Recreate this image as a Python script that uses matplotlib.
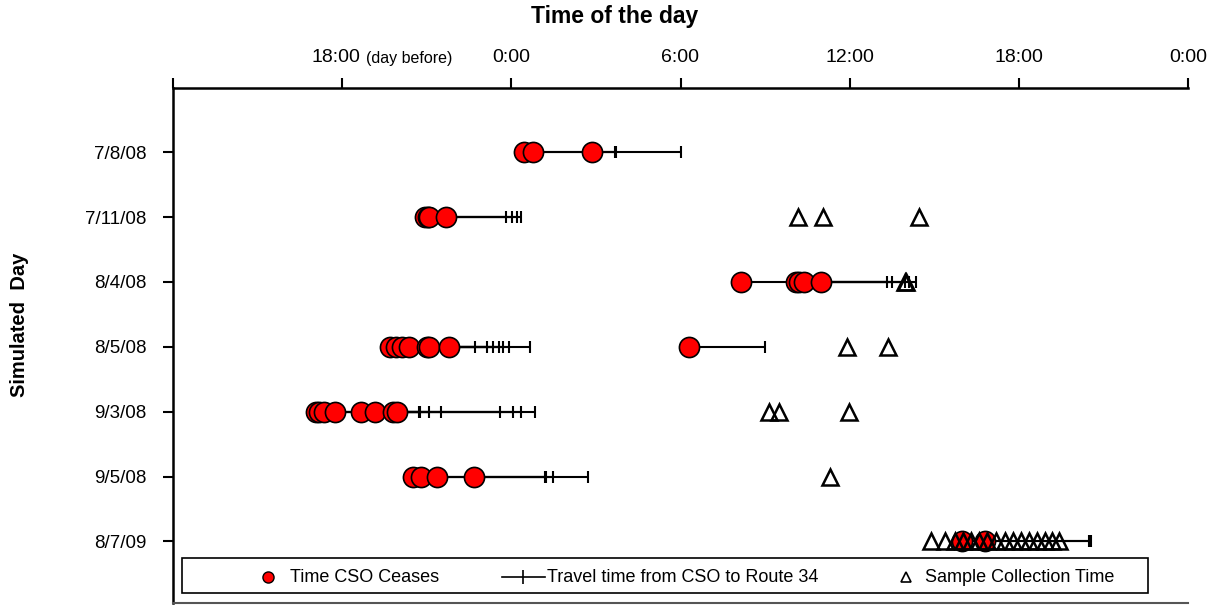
import matplotlib
matplotlib.use("Agg")
import matplotlib.pyplot as plt
from matplotlib.lines import Line2D
from matplotlib.patches import Rectangle
from matplotlib.transforms import ScaledTranslation

plt.rcParams['font.family'] = ['Liberation Sans', 'DejaVu Sans']

# Simulated days (top to bottom)
days = ["7/8/08", "7/11/08", "8/4/08", "8/5/08", "9/3/08", "9/5/08", "8/7/09"]

# Hours relative to midnight of each day (negative = day before)
cso_ceases = [
    [0.46, 0.78, 2.87],
    [-3.05, -2.95, -2.91, -2.32],
    [8.15, 10.10, 10.21, 10.39, 10.98],
    [-4.29, -4.08, -3.87, -3.62, -2.98, -2.91, -2.20, 6.29],
    [-6.93, -6.81, -6.63, -6.24, -5.33, -4.82, -4.21, -4.07],
    [-3.48, -3.20, -2.63, -1.31],
    [16.00, 16.81],
]
arrival_route34 = [
    [3.69, 3.72, 6.00],
    [-0.19, 0.01, 0.19, 0.33],
    [13.31, 13.50, 13.96, 14.10, 14.35],
    [-1.28, -0.88, -0.66, -0.45, -0.31, -0.10, 0.66, 9.01],
    [-3.29, -3.24, -2.93, -2.49, -0.39, 0.07, 0.33, 0.85],
    [1.20, 1.23, 1.49, 2.71],
    [20.48, 20.57],
]
sample_times = [
    [],
    [10.15, 11.04, 14.47],
    [13.96, 14.00],
    [11.90, 13.37],
    [9.15, 9.48, 11.99],
    [11.31],
    [14.89, 15.39, 15.74, 16.03, 16.31, 16.60, 16.88, 17.20, 17.52,
     17.80, 18.09, 18.37, 18.65, 18.94, 19.18, 19.43],
]

tick_hours = [-12, -6, 0, 6, 12, 18, 24]
tick_labels = ["", "18:00", "0:00", "6:00", "12:00", "18:00", "0:00"]

fig = plt.figure(figsize=(12.15, 6.05), dpi=100)
W, H = 1215, 605
ax = fig.add_axes([173 / W, 1 - 603 / H, (1188 - 173) / W, (603 - 88) / H])

for i, (cs, ar, sm) in enumerate(zip(cso_ceases, arrival_route34, sample_times)):
    # travel segments from cease time to arrival at Route 34
    ax.hlines([i] * len(cs), cs, ar, colors='black', lw=1.5, zorder=2)
    ax.plot(ar, [i] * len(ar), ls='none', marker='|', color='black',
            markersize=9, mew=1.5, zorder=2)
    ax.plot(cs, [i] * len(cs), ls='none', marker='o', mfc='#ff0000',
            mec='black', mew=1.2, markersize=14.5, zorder=3)
    if sm:
        ax.plot(sm, [i] * len(sm), ls='none', marker='^', mfc='none',
                mec='black', mew=1.8, markersize=11, zorder=4)

ax.set_xlim(-12, 24)
ax.set_ylim(6.95, -0.99)
ax.xaxis.tick_top()
ax.set_xticks(tick_hours)
ax.set_xticklabels(tick_labels, fontsize=14)
ax.set_yticks(range(len(days)))
ax.set_yticklabels(days, fontsize=13.5)
ax.tick_params(axis='x', direction='out', length=7, width=1.5, pad=9)
ax.tick_params(axis='y', direction='out', length=7, width=1.5, pad=12)

# nudge the "18:00" of the previous day left to make room for its note
lbl = ax.get_xticklabels()[1]
lbl.set_transform(lbl.get_transform() + ScaledTranslation(-0.06, 0, fig.dpi_scale_trans))

for side in ('top', 'left'):
    ax.spines[side].set_linewidth(1.8)
ax.spines['right'].set_visible(False)
ax.spines['bottom'].set_color('#555555')
ax.spines['bottom'].set_linewidth(1.5)

# note beside the first labelled tick, on the tick-label baseline
trans, _, _ = ax.get_xaxis_text2_transform(9 + 7)
ax.text(-5.14, 1, "(day before)", transform=trans, fontsize=11.5,
        ha='left', va='bottom')

fig.text(615 / W, 1 - 17 / H, "Time of the day", fontsize=16.5, fontweight='bold',
         ha='center', va='center')
fig.text(20 / W, 1 - 325 / H, "Simulated  Day", fontsize=14.5, fontweight='bold',
         rotation=90, ha='center', va='center')

# legend box with its three entries
ft = fig.transFigure
fig.add_artist(Rectangle((182 / W, 1 - 593 / H), (1148 - 182) / W, (593 - 558) / H,
                         transform=ft, fill=False, ec='black', lw=1.2))
ly = 1 - 577 / H
fig.add_artist(Line2D([268 / W], [ly], transform=ft, ls='none', marker='o',
                      mfc='#ff0000', mec='black', markersize=8))
fig.add_artist(Line2D([502 / W, 545 / W], [ly, ly], transform=ft, color='black', lw=1.2))
fig.add_artist(Line2D([523 / W], [ly], transform=ft, ls='none', marker='|',
                      color='black', markersize=10, mew=1.2))
fig.add_artist(Line2D([906 / W], [ly], transform=ft, ls='none', marker='^',
                      mfc='none', mec='black', markersize=7, mew=1.2))
legend_labels = ["Time CSO Ceases", "Travel time from CSO to Route 34",
                 "Sample Collection Time"]
for xpix, txt in zip([290, 547, 925], legend_labels):
    fig.text(xpix / W, ly, txt, fontsize=13, ha='left', va='center')

fig.savefig("out.png", dpi=100)
